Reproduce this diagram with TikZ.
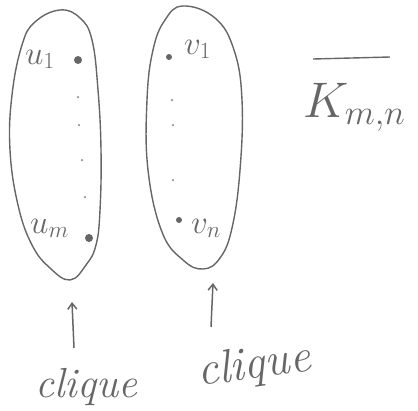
\RequirePackage{fix-cm}
\documentclass[tikz,border=0pt]{standalone}
\usetikzlibrary{arrows.meta}
\definecolor{ink}{gray}{0.40}
\begin{document}
\begin{tikzpicture}[x=1pt,y=-1pt,
  every node/.style={text=ink, inner sep=0pt},
  blob/.style={draw=ink, line width=1.4pt},
  vertex/.style={circle, fill=ink, minimum size=8pt},
  smallvertex/.style={circle, fill=ink, minimum size=6pt},
  dotmark/.style={circle, fill=ink!70, minimum size=2.5pt},
  lbl/.style={anchor=base west, font=\fontsize{33}{35}\selectfont},
  word/.style={font=\fontsize{42}{44}\selectfont\itshape},
  pointer/.style={draw=ink, line width=1.5pt, -{Straight Barb[length=6pt,width=9pt]}}]
\useasboundingbox (0,0) rectangle (418,410);

% the two cliques
\draw[blob] plot[smooth cycle, tension=0.7] coordinates {
  (60,10) (80,18) (92,40) (98,90) (101,150) (100,210) (96,245)
  (86,265) (70,280) (50,268) (32,245) (18,205) (10,150) (12,95) (22,45) (35,22)};
\draw[blob] plot[smooth cycle, tension=0.7] coordinates {
  (183,6) (215,18) (234,50) (242,100) (240,170) (232,228) (220,258)
  (203,269) (183,260) (162,232) (148,170) (147,100) (153,50) (165,20)};

% vertices of the first clique
\node[vertex] (u1) at (78,60) {};
\node[vertex] (um) at (89,238) {};
\node[lbl] (u1l) at (25,64) {$u_1$};
\node[lbl] (uml) at (30,233) {$u_m$};
\node[dotmark] (lu1) at (78,97) {};
\node[dotmark] (lu2) at (79,125) {};
\node[dotmark] (lu3) at (82,160) {};
\node[dotmark] (lu4) at (85,197) {};

% vertices of the second clique
\node[smallvertex] (v1) at (169,57) {};
\node[smallvertex] (vn) at (179,220) {};
\node[lbl] (v1l) at (184,54) {$v_1$};
\node[lbl] (vnl) at (191,233) {$v_n$};
\node[dotmark] (lv1) at (172,100) {};
\node[dotmark] (lv2) at (173,125) {};
\node[dotmark] (lv3) at (173,180) {};

% title: complement of the complete bipartite graph
\node[anchor=base west, font=\fontsize{50}{52}\selectfont] (kt) at (303,117) {$K_{m,n}$};
\coordinate (bara) at (313,59);
\coordinate (barb) at (390,57);
\draw[ink, line width=1.4pt] (bara) -- (barb);

% pointers to the cliques
\node[word, anchor=base west] (c1) at (35,397) {clique};
\node[word, anchor=base west, rotate=8, font=\fontsize{47}{49}\selectfont\itshape] (c2) at (199,386) {clique};
\coordinate (t1) at (74,348);
\coordinate (h1) at (72,302);
\coordinate (t2) at (211,327);
\coordinate (h2) at (213,283);
\draw[pointer] (t1) -- (h1);
\draw[pointer] (t2) -- (h2);
\end{tikzpicture}
\end{document}
